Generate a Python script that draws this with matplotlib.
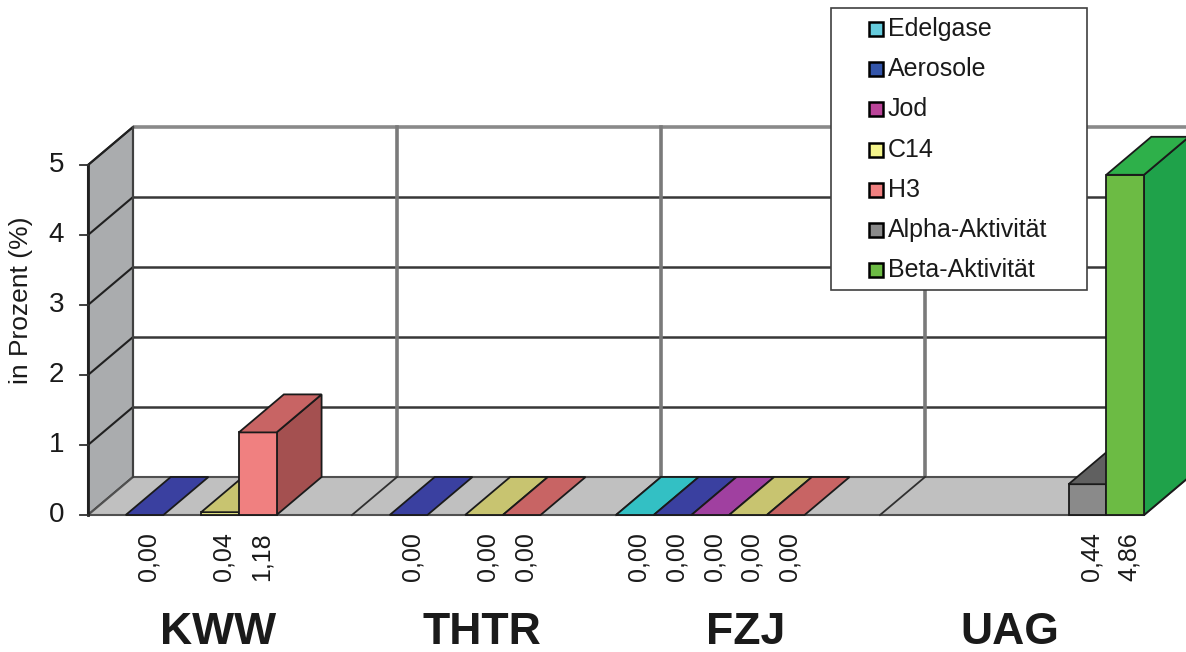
import numpy as np
import matplotlib
matplotlib.use("Agg")
import matplotlib.pyplot as plt
from matplotlib.patches import Polygon, Rectangle

plt.rcParams['font.family'] = ['Liberation Sans', 'DejaVu Sans']

# ---------------- data ----------------
categories = ["KWW", "THTR", "FZJ", "UAG"]
series = ["Edelgase", "Aerosole", "Jod", "C14", "H3", "Alpha-Aktivität", "Beta-Aktivität"]
nan = np.nan
edelgase = [nan, nan, 0.00, nan]
aerosole = [0.00, 0.00, 0.00, nan]
jod = [nan, nan, 0.00, nan]
c14 = [0.04, 0.00, 0.00, nan]
h3 = [1.18, 0.00, 0.00, nan]
alpha = [nan, nan, nan, 0.44]
beta = [nan, nan, nan, 4.86]
values = [edelgase, aerosole, jod, c14, h3, alpha, beta]
yticks = [0, 1, 2, 3, 4, 5]

# ---------------- style ----------------
front_col = ["#66ccdd", "#3355aa", "#bb4499", "#f5f58c", "#f08080", "#8a8a8a", "#6cbb44"]
top_col = ["#33c0c4", "#3a40a0", "#a040a0", "#c8c470", "#c86464", "#606060", "#2eb04a"]
side_col = ["#2a9aa0", "#2a3080", "#803080", "#a8a450", "#a45050", "#505050", "#1fa24a"]

W, H = 1186, 652
SW = 264 / 7.0       # px per slot
VU = 70.0            # px per unit
X0, Y0 = 88, 515     # front origin in pixels (from top-left)
DX = 45 / SW
DY = 38 / VU
nslot = len(series)
ncat = len(categories)
xend = nslot * ncat
ymax = 5
TXT = "#1a1a1a"

fig = plt.figure(figsize=(W / 100, H / 100), dpi=100)
ax = fig.add_axes([0, 0, 1, 1])
ax.set_xlim(-X0 / SW, (W - X0) / SW)
ax.set_ylim(-(H - Y0) / VU, Y0 / VU)
ax.axis("off")

# back wall
ax.add_patch(Rectangle((DX, DY), xend + 2, ymax, facecolor="white", edgecolor="none", zorder=1))
for k in yticks[1:]:
    ax.plot([DX, xend + 3], [k + DY, k + DY], color="#383838" if k < ymax else "#8a8a8a",
            lw=1.8 if k < ymax else 2.6, zorder=2, solid_capstyle="butt")
for c in range(1, ncat):
    xs = c * nslot + DX
    ax.plot([xs, xs], [DY, ymax + DY], color="#7a7a7a", lw=2.6, zorder=2)

# left wall
ax.add_patch(Polygon([(0, 0), (0, ymax), (DX, ymax + DY), (DX, DY)], closed=True,
                     facecolor="#aaacae", edgecolor="#303030", lw=1.5, zorder=3))
for k in yticks[1:]:
    ax.plot([0, DX], [k, k + DY], color="#202020", lw=1.5, zorder=4)
ax.plot([DX, DX], [DY, ymax + DY], color="#404040", lw=1.5, zorder=4)
ax.plot([0, 0], [0, ymax], color="#202020", lw=2, zorder=4)

# floor
ax.add_patch(Polygon([(0, 0), (xend, 0), (xend + DX, DY), (DX, DY)], closed=True,
                     facecolor="#c0c0c0", edgecolor="#505050", lw=1.5, zorder=3))
for c in range(1, ncat):
    xs = c * nslot
    ax.plot([xs, xs + DX], [0, DY], color="#303030", lw=1.3, zorder=4)

# y ticks
for k in yticks:
    ax.plot([-8 / SW, 0], [k, k], color="#303030", lw=1.3, zorder=4)
    ax.text(-24 / SW, k, str(k), ha="right", va="center", fontsize=20, color=TXT)
ax.text(-67 / SW, (Y0 - 300) / VU, "in Prozent (%)", rotation=90, ha="center", va="center",
        fontsize=19, color=TXT)

# bars
z = 5
for c in range(ncat):
    for i in range(nslot):
        v = values[i][c]
        if np.isnan(v):
            continue
        s = c * nslot + i
        if v > 0:
            ax.add_patch(Polygon([(s + 1, 0), (s + 1, v), (s + 1 + DX, v + DY), (s + 1 + DX, DY)],
                                 closed=True, facecolor=side_col[i], edgecolor="#1a1a1a", lw=1.3, zorder=z))
            ax.add_patch(Rectangle((s, 0), 1, v, facecolor=front_col[i], edgecolor="#1a1a1a",
                                   lw=1.3, zorder=z + 1))
        ax.add_patch(Polygon([(s, v), (s + 1, v), (s + 1 + DX, v + DY), (s + DX, v + DY)],
                             closed=True, facecolor=top_col[i], edgecolor="#1a1a1a", lw=1.3, zorder=z + 2))
        z += 3
        ax.text(s + 0.6, -17 / VU, f"{v:.2f}".replace(".", ","), rotation=90, ha="center", va="top",
                fontsize=18, color=TXT)

# category labels
for c, name in enumerate(categories):
    ax.text(c * nslot + 3.45, (Y0 - 632) / VU, name, ha="center", va="center",
            fontsize=32, fontweight="bold", color=TXT)

# legend (manual)
lx0, ly0, lx1, ly1 = 831, 8, 1087, 290
ax.add_patch(Rectangle((lx0 / W, 1 - ly1 / H), (lx1 - lx0) / W, (ly1 - ly0) / H,
                       transform=ax.transAxes, facecolor="white", edgecolor="#404040", lw=1.2, zorder=20))
for i, name in enumerate(series):
    yc = 29 + i * 40.2
    ax.add_patch(Rectangle((869 / W, 1 - (yc + 7) / H), 14 / W, 14 / H, transform=ax.transAxes,
                           facecolor=front_col[i], edgecolor="black", lw=1.8, zorder=21))
    ax.text(888 / W, 1 - yc / H, name, transform=ax.transAxes, ha="left", va="center",
            fontsize=18, color=TXT, zorder=22)

fig.savefig("out.png", dpi=100)
